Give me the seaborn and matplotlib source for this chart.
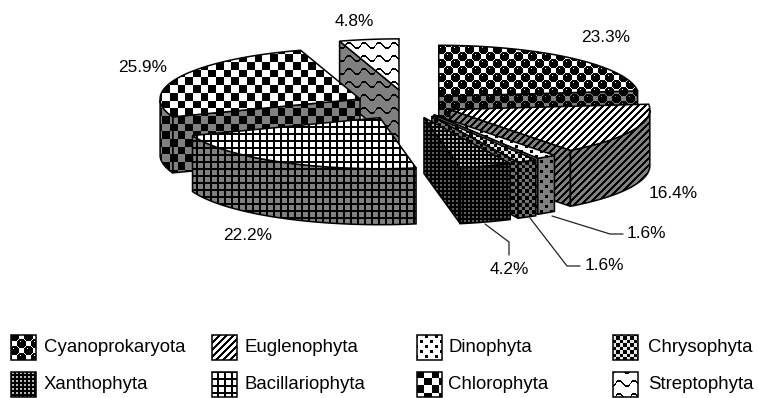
import numpy as np
import seaborn as sns
import matplotlib.pyplot as plt
from matplotlib.patches import Polygon

groups = ['Cyanoprokaryota', 'Euglenophyta', 'Dinophyta', 'Chrysophyta',
          'Xanthophyta', 'Bacillariophyta', 'Chlorophyta', 'Streptophyta']
shares = [23.3, 16.4, 1.6, 1.6, 4.2, 22.2, 25.9, 4.8]
labels = ['23.3%', '16.4%', '1.6%', '1.6%', '4.2%', '22.2%', '25.9%', '4.8%']

# pie layout, all in pixels
explode = [0.23, 0.228, 0.23, 0.25, 0.258, 0.286, 0.267, 0.30]
cx, cy = 408, 105
rx, ry = 200, 51
depth = 56

W, H = 758, 398
yy, xx = np.mgrid[0:H, 0:W]


def checker(p):
    return ((np.floor(xx / p) + np.floor(yy / p)) % 2) == 0


def balls():
    u = (xx % 14) - 7
    v = (yy % 14) - 7
    u2 = ((xx + 7) % 14) - 7
    v2 = ((yy + 7) % 14) - 7
    d = np.minimum(u**2 + v**2, u2**2 + v2**2)
    shine = ((u + 1)**2 + (v + 2)**2 < 1) | ((u2 + 1)**2 + (v2 + 2)**2 < 1)
    return (d < 21) & ~shine


def stripes():
    return ((xx + yy) % 7) < 3


def grid():
    return (xx % 7 < 2) | (yy % 7 < 2)


def waves():
    return np.abs((yy + 3.0 * np.sin(2 * np.pi * xx / 15)) % 13 - 6) < 1.0


def spots():
    return ((xx % 10 < 3) & (yy % 10 < 3)) | (((xx + 5) % 10 < 3) & ((yy + 5) % 10 < 3))


masks = {
    'Cyanoprokaryota': balls(),
    'Euglenophyta': stripes(),
    'Dinophyta': spots(),
    'Chrysophyta': checker(3.5),
    'Xanthophyta': ~((xx % 4 < 2) & (yy % 4 < 2)),
    'Bacillariophyta': grid(),
    'Chlorophyta': checker(7.7),
    'Streptophyta': waves(),
}
# fine patterns blur to a darker tone in the reference
tone = {'Xanthophyta': 0.72, 'Chrysophyta': 0.9}

sns.set_theme(style='white')
plt.rcParams['font.family'] = ['Liberation Sans', 'DejaVu Sans']

fig = plt.figure(figsize=(W / 100, H / 100), dpi=100)
ax = fig.add_axes([0, 0, 1, 1])
ax.axis('off')


def fill(pts, name, base, z):
    ax.add_patch(Polygon(pts, closed=True, fc='none', ec='black', lw=1.1, zorder=z + 0.5))
    img = np.where(masks[name], 0.0, base * tone.get(name, 1.0))
    im = ax.imshow(img, cmap='gray', vmin=0, vmax=1, extent=(0, W, H, 0),
                   interpolation='nearest', zorder=z, aspect='auto')
    im.set_clip_path(Polygon(pts, closed=True, transform=ax.transData))


# clockwise from twelve o'clock
edges = np.cumsum([0] + shares) / sum(shares) * 2 * np.pi
paint_order = [7, 6, 0, 1, 2, 3, 4, 5]

for z, i in enumerate(paint_order):
    a1, a2 = edges[i], edges[i + 1]
    mid = (a1 + a2) / 2
    ax0 = cx + explode[i] * rx * np.sin(mid)
    ay0 = cy - explode[i] * ry * np.cos(mid)
    t = np.linspace(a1, a2, 60)
    arc = np.column_stack([ax0 + rx * np.sin(t), ay0 - ry * np.cos(t)])
    apex = np.array([ax0, ay0])
    drop = np.array([0, depth])
    zz = 10 + z * 4

    # cut faces that look to the viewer
    if np.sin(a1) < -1e-6:
        fill([apex, arc[0], arc[0] + drop, apex + drop], groups[i], 0.5, zz)
    if np.sin(a2) > 1e-6:
        fill([apex, arc[-1], arc[-1] + drop, apex + drop], groups[i], 0.5, zz)
    # outer wall, front half only
    front = arc[np.cos(t) < 0]
    if len(front) > 1:
        fill(np.vstack([front, (front + drop)[::-1]]), groups[i], 0.5, zz + 1)
    # top
    fill(np.vstack([apex, arc]), groups[i], 1.0, zz + 2)

# labels
label_pos = [(606, 38), (673, 193), (646, 233), (604, 265), (509, 270),
             (248, 236), (143, 68), (354, 22)]
for s, (x, y) in zip(labels, label_pos):
    ax.text(x, y, s, ha='center', va='center', fontsize=12.4, color='black', zorder=60)

# leader lines
leaders = [[(552, 216), (610, 234), (623, 234)],
           [(530, 218), (567, 266), (580, 266)],
           [(485, 224), (509, 242), (509, 255)]]
for line in leaders:
    p = np.array(line)
    ax.plot(p[:, 0], p[:, 1], color='#222222', lw=0.9, zorder=60)

# legend
col_x = [11, 212, 417, 613]
text_x = [44, 245, 448, 648]
row_y = [335, 372]
for k, name in enumerate(groups):
    c = k % 4
    r = k // 4
    x0, y0 = col_x[c], row_y[r]
    pts = [(x0, y0), (x0 + 25, y0), (x0 + 25, y0 + 25), (x0, y0 + 25)]
    fill(pts, name, 1.0, 70)
    ax.text(text_x[c], y0 + 12.5, name, ha='left', va='center', fontsize=13.4,
            color='black', zorder=75)

ax.set_xlim(0, W)
ax.set_ylim(H, 0)
fig.savefig('out.png', dpi=100)
